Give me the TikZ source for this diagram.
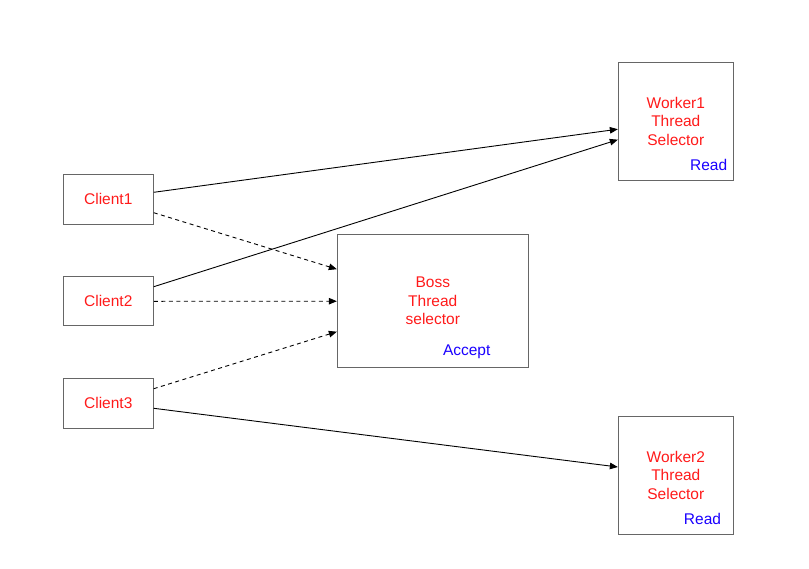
\documentclass[tikz,border=0pt]{standalone}
\usepackage{fontspec}
\setmainfont{Liberation Sans}
\usetikzlibrary{arrows.meta}
\definecolor{boxgray}{HTML}{666666}
\definecolor{txtred}{HTML}{FF1A1A}
\definecolor{txtblue}{HTML}{1A00FF}
\tikzset{
  box/.style={draw=boxgray, line width=0.9pt, rectangle, inner sep=0pt,
    text=txtred, align=center, font=\fontsize{15.5}{18.5}\selectfont},
  lbl/.style={text=txtblue, inner sep=0pt, anchor=base, font=\fontsize{15.5}{18.5}\selectfont},
  conn/.style={line width=0.9pt, -{Triangle[length=8pt,width=6.5pt]}},
  dconn/.style={conn, dash pattern=on 4pt off 3.5pt}
}
\begin{document}
\begin{tikzpicture}[x=1pt,y=-1pt]
\useasboundingbox (0,0) rectangle (809,568);
\node[box, minimum width=90pt, minimum height=50pt] (c1) at (108.3,199.3) {Client1};
\node[box, minimum width=90pt, minimum height=49pt] (c2) at (108.3,301.3) {Client2};
\node[box, minimum width=90pt, minimum height=50pt] (c3) at (108.3,403.3) {Client3};
\node[box, minimum width=191pt, minimum height=133pt] (boss) at (432.8,301.2) {Boss\\Thread\\selector};
\node[box, minimum width=115pt, minimum height=118pt] (w1) at (675.8,121.2) {Worker1\\Thread\\Selector};
\node[box, minimum width=115pt, minimum height=118pt] (w2) at (675.8,475) {Worker2\\Thread\\Selector};
\node[lbl] (acc) at (466.7,355) {Accept};
\node[lbl] (r1) at (708.7,170.7) {Read};
\node[lbl] (r2) at (702.5,524.5) {Read};
\draw[conn] ([yshift=7pt]c1.east) -- ([yshift=-8pt]w1.west);
\draw[conn] ([yshift=14.6pt]c2.east) -- ([yshift=-18.5pt]w1.west);
\draw[conn] ([yshift=-5pt]c3.east) -- ([yshift=8pt]w2.west);
\draw[dconn] ([yshift=-13.4pt]c1.east) -- ([yshift=32pt]boss.west);
\draw[dconn] (c2.east) -- (boss.west);
\draw[dconn] ([yshift=14.6pt]c3.east) -- ([yshift=-30.5pt]boss.west);
\end{tikzpicture}
\end{document}
